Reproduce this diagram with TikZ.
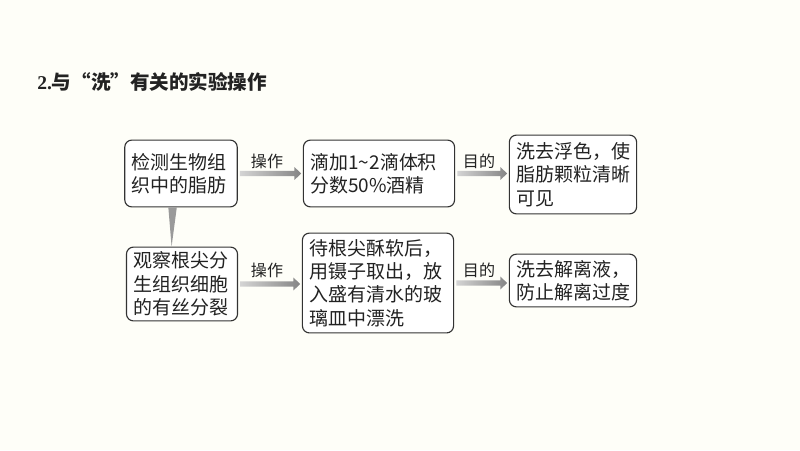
\documentclass[tikz,border=0pt]{standalone}
\usepackage{fontspec}
\setmainfont{Noto Sans CJK SC}
\newfontfamily\numfont{Liberation Serif}
\usepackage{xcolor}
\usepackage{tikz}
\usetikzlibrary{
  positioning,
  calc,
}
\definecolor{pagebg}{HTML}{FEFEF8}
\definecolor{ink}{HTML}{222222}
\definecolor{boxline}{HTML}{333333}
\definecolor{shaftlight}{HTML}{D4D4D4}
\definecolor{shaftdark}{HTML}{858585}
\definecolor{wedgegray}{HTML}{9A9A9A}
\tikzset{
  every node/.append style={text=ink},
  heading/.style={font=\bfseries\fontsize{13.9pt}{16pt}\selectfont, anchor=west, inner sep=0pt},
  stepbox/.style={
    draw=boxline,
    line width=0.8pt,
    rounded corners=5pt,
    fill=white,
    align=left,
    inner xsep=5pt,
    inner ysep=3pt,
    text width=#1,
    font=\fontsize{13.5pt}{16.6pt}\selectfont,
  },
  tag/.style={font=\fontsize{11.4pt}{13pt}\selectfont, inner sep=0pt},
}
% gray arrow with a light-to-dark fill, drawn between two named nodes
\newcommand{\flowarrow}[2]{%
  \path ([xshift=1.5pt]#1.east) coordinate (s) (#1.east -| #2.west) coordinate (t);
  \shade[left color=shaftlight, right color=shaftdark]
    ([yshift=1.8pt]s) -- ([xshift=-6pt,yshift=1.8pt]t)
    -- ([xshift=-6pt,yshift=4.6pt]t) -- ([xshift=-1.2pt]t)
    -- ([xshift=-6pt,yshift=-4.6pt]t) -- ([xshift=-6pt,yshift=-1.8pt]t)
    -- ([yshift=-1.8pt]s) -- cycle;
}

\begin{document}
\begin{tikzpicture}[x=0.025cm,y=-0.025cm]
  \fill[pagebg] (0,0) rectangle (800,450);
  \useasboundingbox (0,0) rectangle (800,450);

  \node[heading] (title) at (37,82) {{\numfont 2.}与“洗”有关的实验操作};

  % left column
  \node[stepbox=70pt, minimum height=47.5pt] (fat) at (181,173.5)
    {检测生物组\\织中的脂肪};
  \node[stepbox=69pt, minimum height=52.5pt] (root) at (182,284)
    {观察根尖分\\生组织细胞\\的有丝分裂};

  % middle column
  \node[stepbox=97.5pt, minimum height=47.5pt] (ethanol) at (379,173.5)
    {滴加1\textasciitilde2滴体积\\分数50\%酒精};
  \node[stepbox=97.5pt, minimum height=71pt] (rinse) at (378,283)
    {待根尖酥软后，\\用镊子取出，放\\入盛有清水的玻\\璃皿中漂洗};

  % right column
  \node[stepbox=80.5pt, minimum height=56pt] (stain) at (573,174.5)
    {洗去浮色，使\\脂肪颗粒清晰\\可见};
  \node[stepbox=80.5pt, minimum height=37.5pt] (solvent) at (573,280.5)
    {洗去解离液，\\防止解离过度};

  % wedge between the two experiments
  \fill[wedgegray] ([xshift=-9pt]fat.south) -- ([xshift=-3pt]fat.south)
    -- ([xshift=-7.4pt]root.north) -- cycle;

  % arrows and labels
  \flowarrow{fat}{ethanol}
  \flowarrow{ethanol}{stain}
  \flowarrow{root}{rinse}
  \flowarrow{rinse}{solvent}

  \node[tag] (op1) at (267,161) {操作};
  \node[tag] (aim1) at (479,161) {目的};
  \node[tag] (op2) at (267,270) {操作};
  \node[tag] (aim2) at (479,270) {目的};
\end{tikzpicture}
\end{document}
